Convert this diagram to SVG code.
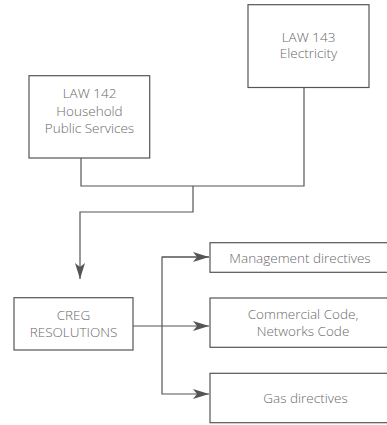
<svg xmlns="http://www.w3.org/2000/svg" width="387" height="425" viewBox="0 0 387 425">
<style>
.box{fill:#fff;stroke:#555;stroke-width:1.2}
.t{font-family:"Open Sans","Liberation Sans",sans-serif;font-size:13.5px;font-weight:300;fill:#6a6a6a;text-anchor:middle}
.ln{fill:none;stroke:#555;stroke-width:1.2}
</style>
<defs>
<marker id="ah" viewBox="0 0 16 10" refX="16" refY="5" markerWidth="16" markerHeight="10" markerUnits="userSpaceOnUse" orient="auto">
<path d="M0,0 L16,5 L0,10 L4,5 Z" fill="#555"/>
</marker>
</defs>
<rect width="387" height="425" fill="#fff"/>
<g id="connectors">
<polyline class="ln" points="81,158 81,186 304,186 304,87.5"/>
<polyline class="ln" points="193,186 193,212 80,212 80,279" marker-end="url(#ah)"/>
<line class="ln" x1="133" y1="326" x2="209" y2="326" marker-end="url(#ah)"/>
<polyline class="ln" points="209,257 162,257 162,394 209,394" marker-end="url(#ah)"/>
<line class="ln" x1="162" y1="257" x2="209" y2="257" marker-end="url(#ah)"/>
</g>
<g id="law143">
<rect class="box" x="248" y="4.7" width="121" height="82.8"/>
<text class="t" x="308.5" y="41.5">LAW 143</text>
<text class="t" x="308.5" y="58">Electricity</text>
</g>
<g id="law142">
<rect class="box" x="29" y="75.7" width="120.7" height="82.3"/>
<text class="t" x="89.5" y="98">LAW 142</text>
<text class="t" x="89.5" y="115.5">Household</text>
<text class="t" x="89.5" y="133">Public Services</text>
</g>
<g id="creg">
<rect class="box" x="14" y="297.7" width="119" height="52.3"/>
<text class="t" x="73.5" y="319.5">CREG</text>
<text class="t" x="73.5" y="337">RESOLUTIONS</text>
</g>
<g id="management">
<rect class="box" x="210" y="242.7" width="180" height="29.6"/>
<text class="t" x="300" y="262.5">Management directives</text>
</g>
<g id="codes">
<rect class="box" x="210" y="298" width="180" height="49.3"/>
<text class="t" x="303" y="318.5">Commercial Code,</text>
<text class="t" x="303" y="336">Networks Code</text>
</g>
<g id="gas">
<rect class="box" x="210" y="373.3" width="180" height="49.4"/>
<text class="t" x="305.5" y="402.5">Gas directives</text>
</g>
</svg>
